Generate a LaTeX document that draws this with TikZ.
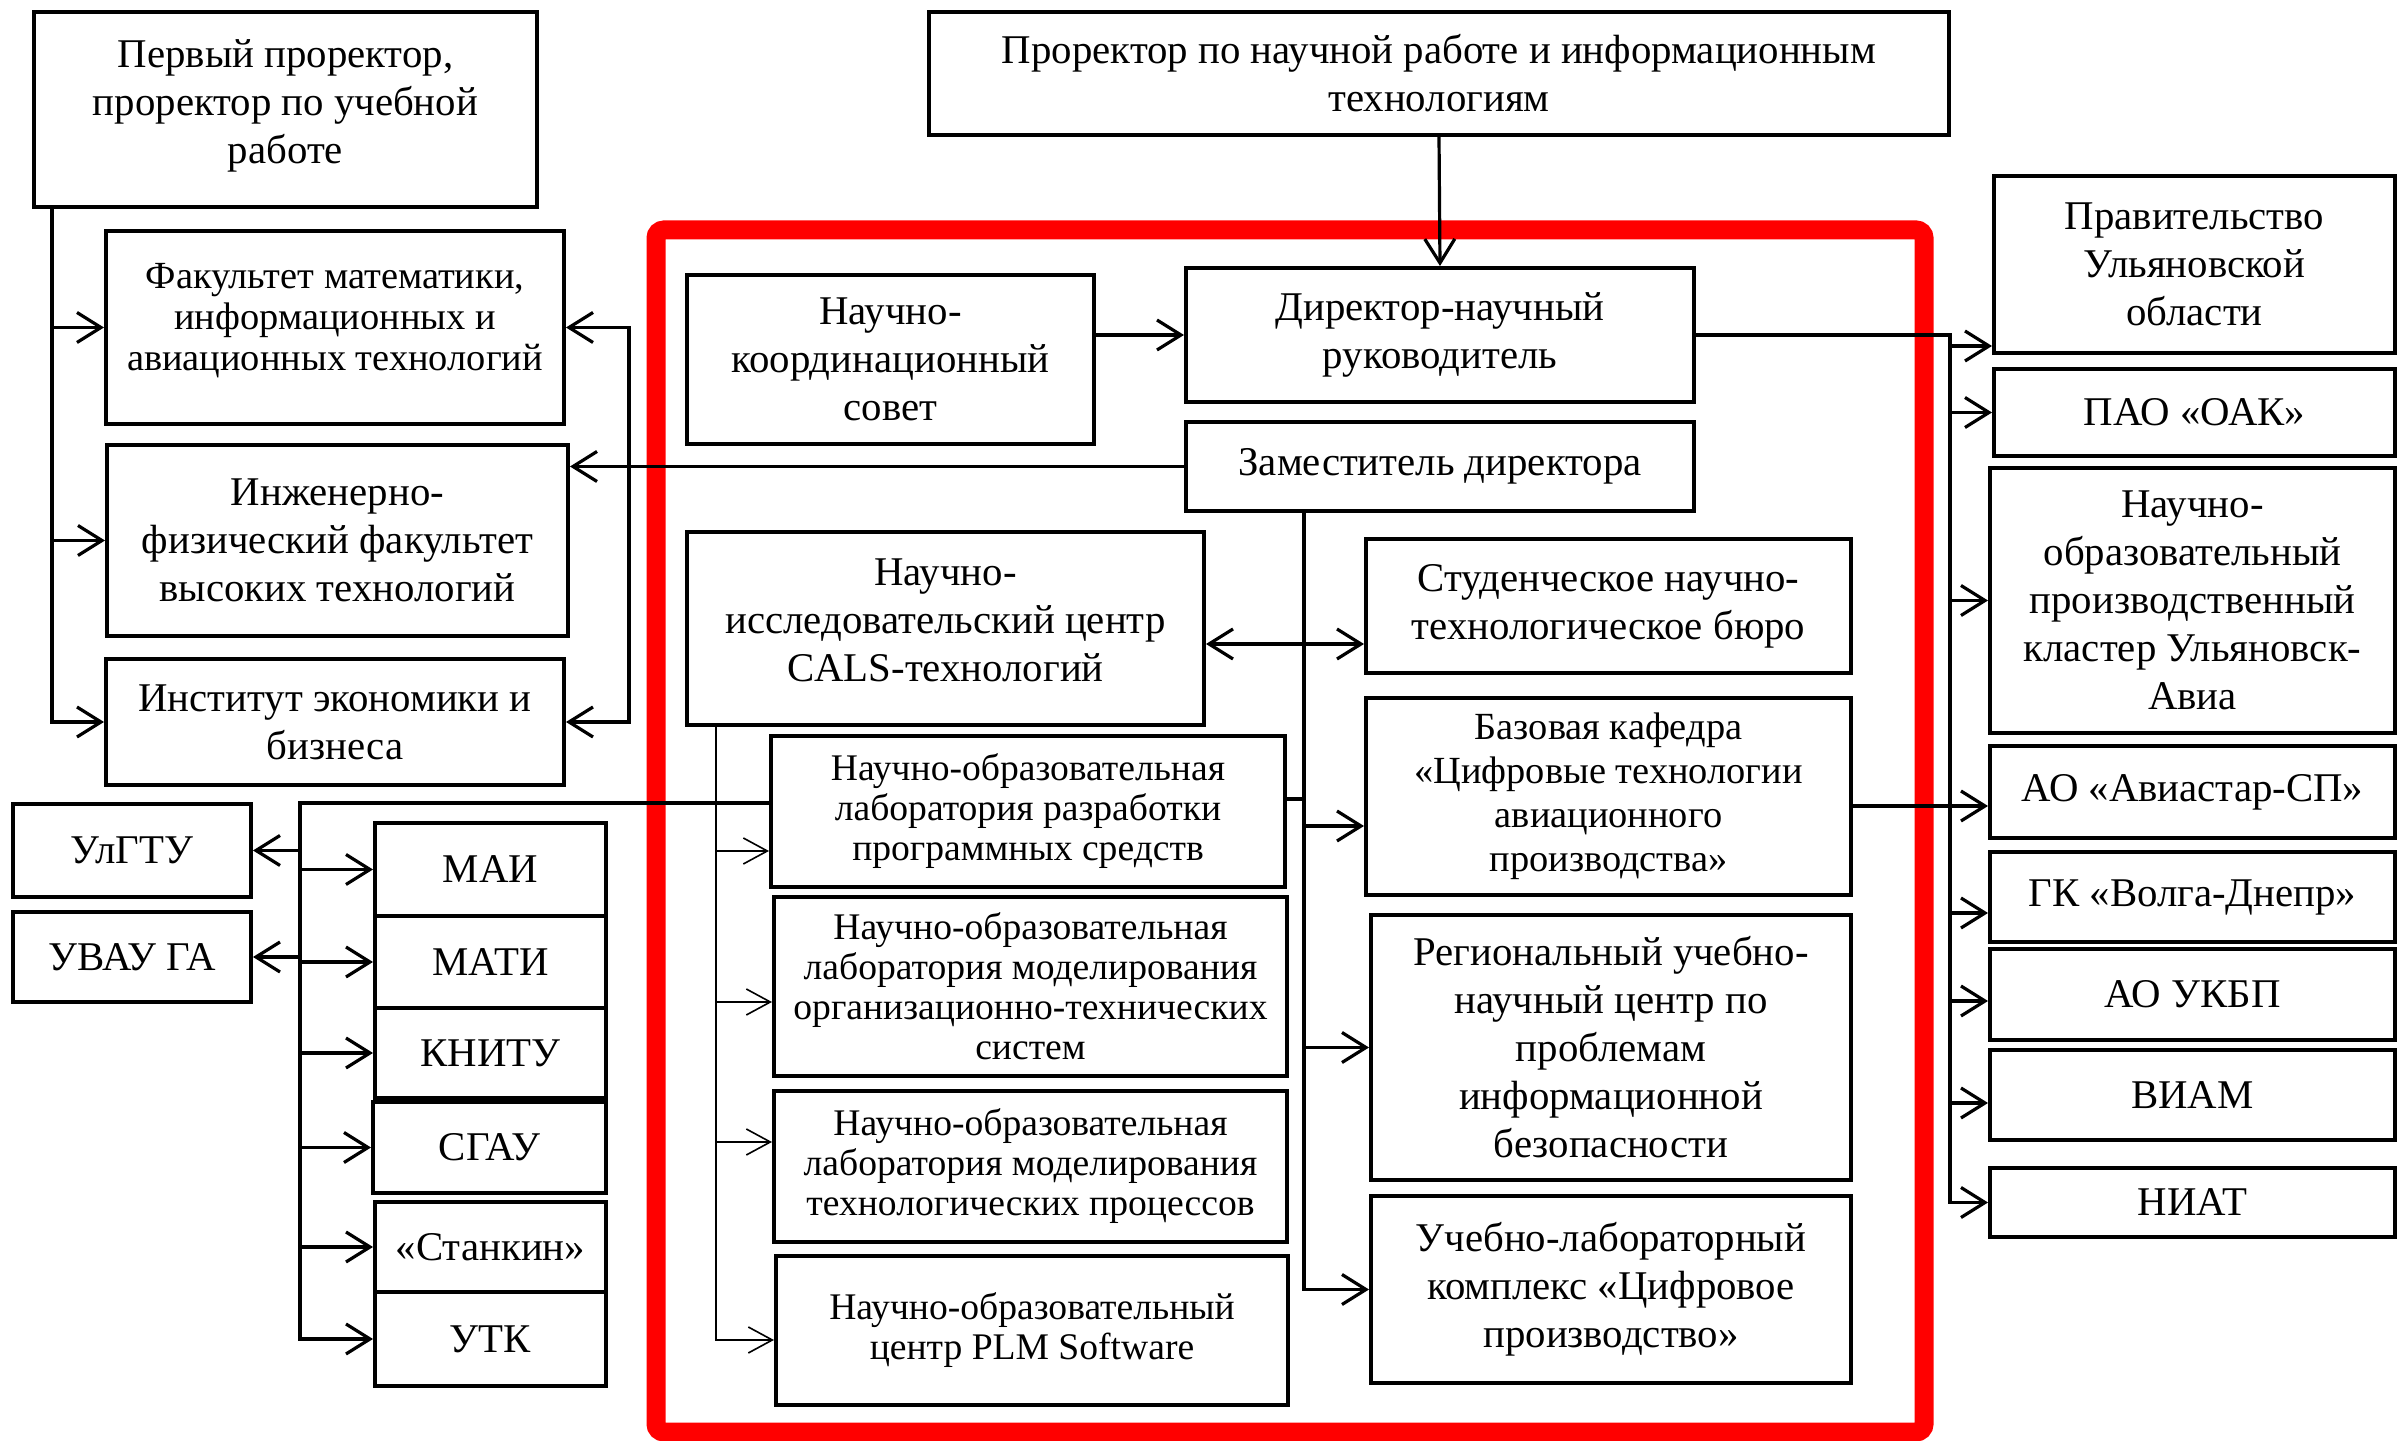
\documentclass[tikz,border=0pt]{standalone}
\usepackage{fontspec}
\setmainfont{Liberation Serif}
\usetikzlibrary{arrows.meta}
\newcommand\mkbox[7][]{\node[box,#1,minimum width={(#5-#3)*0.25pt},minimum height={(#6-#4)*0.25pt}] (#2) at ({(#3+#5)/2},{(#4+#6)/2}) {#7};}
\tikzset{
  box/.style={draw, line width=1pt, inner sep=0pt, align=center, font=\fontsize{10.2pt}{12pt}\selectfont},
  sbox/.style={font=\fontsize{9.4pt}{10pt}\selectfont},
  mbox/.style={font=\fontsize{9.6pt}{10.3pt}\selectfont},
  bbox/.style={font=\fontsize{9.6pt}{11pt}\selectfont},
  conn/.style={line width=0.8pt},
  arr/.style={conn, -{Straight Barb[length=6pt,width=7.5pt,line width=0.8pt]}},
  darr/.style={conn, {Straight Barb[length=6pt,width=7.5pt,line width=0.8pt]}-{Straight Barb[length=6pt,width=7.5pt,line width=0.8pt]}},
  thinarr/.style={line width=0.4pt, -{Straight Barb[length=6pt,width=6.5pt,line width=0.4pt]}},
  redframe/.style={draw=red, line width=4.75pt, rounded corners=2pt}
}
\begin{document}
\begin{tikzpicture}[x=0.25pt,y=-0.25pt]
\useasboundingbox (0,0) rectangle (2399,1441);
\draw[redframe] (656,230) rectangle (1924,1432);
% left
\mkbox{perv}{34}{12}{537}{207}{Первый проректор,\\ проректор по учебной\\ работе\\[-8.2pt]}
\mkbox{prn}{929}{12}{1949}{135}{Проректор по научной работе и информационным\\ технологиям}
\mkbox[mbox]{fak}{106}{231}{564}{424}{Факультет математики,\\ информационных и\\ авиационных технологий\\[-4.9pt]}
\mkbox{inz}{107}{445}{568}{636}{Инженерно-\\ физический факультет\\ высоких технологий}
\mkbox{inst}{106}{659}{564}{785}{Институт экономики и\\ бизнеса}
\mkbox{ulgtu}{13}{804}{251}{897}{УлГТУ}
\mkbox{uvau}{13}{912}{251}{1002}{УВАУ ГА}
\mkbox{mai}{375}{823}{606}{916}{МАИ}
\mkbox{mati}{375}{916}{606}{1008}{МАТИ}
\mkbox{knitu}{375}{1008}{606}{1098}{КНИТУ}
\mkbox{sgau}{373}{1102}{606}{1193}{СГАУ}
\mkbox{stankin}{375}{1202}{606}{1292}{«Станкин»}
\mkbox{utk}{375}{1292}{606}{1386}{УТК}
% center
\mkbox{nks}{687}{275}{1094}{444}{Научно-\\ координационный\\ совет}
\mkbox{dir}{1186}{268}{1694}{402}{Директор-научный\\ руководитель}
\mkbox{zam}{1186}{422}{1694}{511}{Заместитель директора}
\mkbox{cals}{687}{532}{1204}{725}{Научно-\\ исследовательский центр\\ CALS-технологий\\[-7.8pt]}
\mkbox{stud}{1366}{539}{1851}{673}{Студенческое научно-\\ технологическое бюро}
\mkbox[bbox]{baz}{1366}{698}{1851}{895}{Базовая кафедра\\ «Цифровые технологии\\ авиационного\\ производства»}
\mkbox{reg}{1371}{915}{1851}{1180}{Региональный учебно-\\ научный центр по\\ проблемам\\ информационной\\ безопасности}
\mkbox{uchlab}{1371}{1196}{1851}{1383}{Учебно-лабораторный\\ комплекс «Цифровое\\ производство»}
\mkbox[sbox]{lab1}{771}{736}{1285}{887}{Научно-образовательная\\ лаборатория разработки\\ программных средств}
\mkbox[sbox]{lab2}{774}{897}{1287}{1076}{Научно-образовательная\\ лаборатория моделирования\\ организационно-технических\\ систем}
\mkbox[sbox]{lab3}{774}{1091}{1287}{1242}{Научно-образовательная\\ лаборатория моделирования\\ технологических процессов}
\mkbox[sbox]{plm}{776}{1256}{1288}{1405}{Научно-образовательный\\ центр PLM Software}
% right
\mkbox{prav}{1994}{176}{2395}{353}{Правительство\\ Ульяновской\\ области}
\mkbox{oak}{1994}{369}{2395}{456}{ПАО «ОАК»}
\mkbox{klas}{1990}{468}{2395}{733}{Научно-\\ образовательный\\ производственный\\ кластер Ульяновск-\\ Авиа}
\mkbox{avia}{1990}{746}{2395}{838}{АО «Авиастар-СП»}
\mkbox{volga}{1990}{852}{2395}{942}{ГК «Волга-Днепр»}
\mkbox{ukbp}{1990}{949}{2395}{1040}{АО УКБП}
\mkbox{viam}{1990}{1050}{2395}{1140}{ВИАМ}
\mkbox{niat}{1990}{1168}{2395}{1237}{НИАТ}
% trunk coordinates
\coordinate (lx) at (52,0);
\coordinate (rx) at (629,0);
\coordinate (ux) at (300,0);
\coordinate (tz) at (1304,0);
\coordinate (cx) at (716,0);
\coordinate (rt) at (1950,0);
% connectors
\draw[arr] (prn.south) -- (dir.north);
\draw[arr] (nks.east |- dir.west) -- (dir.west);
\draw[arr] (perv.south -| lx) |- (inst.west);
\draw[arr] (lx |- fak.west) -- (fak.west);
\draw[arr] (lx |- inz.west) -- (inz.west);
\draw[arr] (zam.west) -- (inz.east |- zam.west);
\draw[darr] (fak.east) -| (rx |- inst.east) -- (inst.east);
\draw[arr] (lab1.west |- 0,803) -| (ux |- utk.west) -- (utk.west);
\foreach \n in {mai,mati,knitu,sgau,stankin} \draw[arr] (ux |- \n.west) -- (\n.west);
\draw[arr] (ux |- ulgtu.east) -- (ulgtu.east);
\draw[arr] (ux |- uvau.east) -- (uvau.east);
\draw[arr] (zam.south -| tz) |- (uchlab.west);
\draw[arr] (tz |- 0,826) -- (baz.west |- 0,826);
\draw[arr] (tz |- reg.west) -- (reg.west);
\draw[darr] (cals.east |- 0,644) -- (stud.west |- 0,644);
\draw[conn] (lab1.east |- 0,799) -- (tz |- 0,799);
\draw[thinarr] (cals.south -| cx) |- (plm.west |- 0,1340);
\draw[thinarr] (cx |- 0,851) -- (lab1.west |- 0,851);
\draw[thinarr] (cx |- 0,1002) -- (lab2.west |- 0,1002);
\draw[thinarr] (cx |- 0,1142) -- (lab3.west |- 0,1142);
\draw[arr] (dir.east) -| (rt |- niat.west) -- (niat.west);
\draw[arr] (rt |- 0,346) -- (prav.west |- 0,346);
\draw[arr] (rt |- oak.west) -- (oak.west);
\draw[arr] (rt |- klas.west) -- (klas.west);
\draw[arr] (baz.east |- 0,806) -- (avia.west |- 0,806);
\draw[arr] (rt |- 0,913) -- (volga.west |- 0,913);
\draw[arr] (rt |- 0,1001) -- (ukbp.west |- 0,1001);
\draw[arr] (rt |- 0,1103) -- (viam.west |- 0,1103);
\end{tikzpicture}
\end{document}
